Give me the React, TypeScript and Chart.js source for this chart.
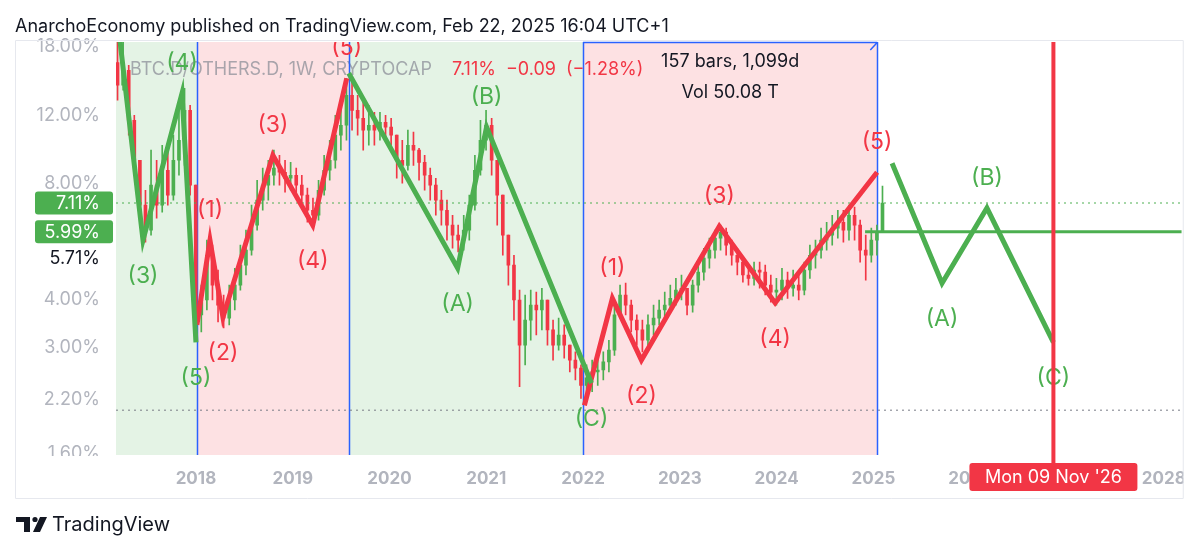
import React, { useEffect, useRef } from 'react';
import { Chart, registerables } from 'chart.js';
Chart.register(...registerables);

// ---------- DATA ----------
const candleStartYear = 2017.19;
const candleStepYears = 3 / 52;
const firstOpen = 16.4;
const candleClose = [
  14.34, 15.68, 11.64, 9.17, 7.02, 6.05, 7.91, 7.02, 8.64, 7.45,
  9.17, 10.33, 12.35, 7.91, 3.65, 3.99, 5.21, 4.36, 3.87, 3.58,
  3.99, 4.36, 4.91, 5.37, 6.23, 7.23, 7.91, 8.39, 8.75, 8.54,
  8.24, 8.39, 7.91, 7.45, 6.81, 6.61, 7.67, 8.64, 9.17, 10.65,
  11.30, 13.51, 12.35, 11.78, 10.97, 11.30, 10.97, 11.50, 11.17, 10.65,
  9.17, 8.90, 10.03, 9.74, 9.06, 8.39, 7.91, 7.23, 6.81, 6.23,
  5.87, 5.70, 6.05, 7.02, 8.64, 10.33, 11.30, 9.17, 7.45, 5.87,
  4.91, 3.99, 3.05, 3.54, 3.87, 3.76, 3.99, 3.34, 3.05, 3.24,
  3.05, 2.79, 2.66, 2.40, 2.51, 2.60, 2.63, 2.76, 2.96, 3.65,
  4.11, 3.87, 3.54, 3.34, 3.14, 3.44, 3.58, 3.76, 3.87, 4.03,
  4.23, 4.28, 3.87, 4.36, 4.71, 5.12, 5.37, 5.77, 5.98, 5.53,
  5.21, 5.00, 4.63, 4.54, 4.77, 4.71, 4.36, 4.18, 4.23, 4.49,
  4.28, 4.36, 4.23, 4.77, 5.21, 5.37, 5.70, 5.87, 6.12, 6.34,
  6.05, 6.61, 6.23, 5.37, 5.21, 5.70, 5.98, 7.11,
];
const candleHigh = [
  19.0, 19.0, 16.15, 11.99, 9.17, 7.67, 9.74, 9.17, 10.03, 9.74,
  10.65, 13.11, 14.08, 12.73, 7.91, 4.36, 5.70, 5.53, 4.77, 4.11,
  4.36, 4.82, 5.53, 6.05, 7.02, 8.14, 8.75, 9.17, 9.74, 9.45,
  9.17, 9.06, 8.75, 8.39, 7.77, 7.32, 8.14, 9.45, 10.33, 11.99,
  13.11, 14.95, 14.77, 13.51, 13.11, 12.73, 12.21, 12.21, 11.99, 11.78,
  10.65, 10.33, 10.97, 10.84, 9.85, 9.45, 8.75, 8.24, 7.67, 7.23,
  6.61, 6.23, 6.61, 7.45, 9.45, 11.64, 12.35, 11.78, 8.90, 6.81,
  5.70, 5.21, 4.23, 4.11, 4.23, 4.18, 4.28, 3.99, 3.54, 3.58,
  3.44, 3.05, 2.93, 2.71, 2.71, 2.79, 2.82, 2.93, 3.14, 3.99,
  4.36, 4.41, 3.99, 3.65, 3.54, 3.65, 3.87, 3.99, 4.18, 4.36,
  4.54, 4.63, 4.28, 4.49, 5.00, 5.43, 5.77, 6.05, 6.23, 6.12,
  5.70, 5.43, 5.12, 4.91, 5.00, 5.00, 4.91, 4.63, 4.54, 4.82,
  4.71, 4.77, 4.71, 5.00, 5.53, 5.70, 6.12, 6.34, 6.61, 6.81,
  6.81, 7.02, 6.94, 6.42, 5.87, 6.12, 6.23, 7.86,
];
const candleLow = [
  13.11, 13.92, 10.65, 8.39, 6.23, 5.63, 5.87, 6.50, 6.73, 7.02,
  7.23, 8.39, 8.90, 7.45, 3.14, 3.30, 3.76, 3.99, 3.50, 3.38,
  3.44, 3.76, 4.23, 4.63, 5.21, 6.05, 6.81, 7.23, 7.91, 7.91,
  7.58, 7.67, 7.32, 7.02, 6.34, 6.12, 6.42, 7.45, 8.14, 8.75,
  9.74, 10.33, 10.97, 10.65, 9.74, 10.03, 10.03, 10.33, 10.46, 10.03,
  8.24, 8.00, 8.64, 8.90, 8.14, 7.67, 7.23, 6.61, 6.23, 5.70,
  5.43, 5.31, 5.37, 5.70, 6.81, 8.39, 9.74, 8.39, 6.23, 5.21,
  4.36, 3.54, 2.38, 2.71, 3.14, 3.24, 3.34, 3.05, 2.79, 2.96,
  2.82, 2.60, 2.48, 2.22, 2.20, 2.31, 2.40, 2.48, 2.60, 2.87,
  3.58, 3.65, 3.30, 3.05, 2.93, 3.05, 3.24, 3.44, 3.58, 3.71,
  3.87, 3.99, 3.65, 3.71, 4.18, 4.49, 4.82, 5.12, 5.37, 5.21,
  4.91, 4.63, 4.44, 4.36, 4.36, 4.28, 4.11, 3.94, 3.87, 3.99,
  4.03, 4.08, 3.99, 4.11, 4.54, 4.82, 5.12, 5.37, 5.53, 5.77,
  5.63, 5.70, 5.70, 5.00, 4.49, 5.00, 5.21, 5.98,
];

const yTicks = [18, 12, 8, 4, 3, 2.2, 1.6];
const xTickYears = [2018, 2019, 2020, 2021, 2022, 2023, 2024, 2025, 2026, 2027, 2028];
const xMin = 2017.174;
const xMax = 2028.186;
const yMin = 1.585;
const yMax = 18.55;

const regionBounds = [2017.174, 2018.01, 2019.58, 2022.0, 2025.04];
const regionKinds = ['up', 'down', 'up', 'down'];
const dividerYears = [2018.01, 2019.58, 2022.0, 2025.04];
const rangeStartYear = 2022.0;
const rangeEndYear = 2025.04;
const projectionYear = 2026.86;
const projectionText = "Mon 09 Nov '26";

const waveG1X = [2017.216, 2017.453, 2017.856, 2018.0];
const waveG1Y = [18.6, 5.7, 13.67, 3.1];
const waveG1L = ['', '(3)', '(4)', '(5)'];
const waveR1X = [2018.01, 2018.145, 2018.279, 2018.795, 2019.207, 2019.558];
const waveR1Y = [3.44, 5.7, 3.6, 9.45, 6.23, 14.95];
const waveR1L = ['', '(1)', '(2)', '(3)', '(4)', '(5)'];
const waveG2X = [2019.579, 2020.704, 2021.003, 2022.087];
const waveG2Y = [15.4, 4.82, 11.17, 2.43];
const waveG2L = ['', '(A)', '(B)', '(C)'];
const waveR2X = [2022.014, 2022.303, 2022.603, 2023.408, 2023.985, 2025.038];
const waveR2Y = [2.13, 4.03, 2.79, 6.19, 3.92, 8.54];
const waveR2L = ['', '(1)', '(2)', '(3)', '(4)', '(5)'];
const waveG3X = [2025.193, 2025.709, 2026.173, 2026.86];
const waveG3Y = [9.01, 4.41, 6.9, 3.1];
const waveG3L = ['', '(A)', '(B)', '(C)'];

const lastPrice = 7.11;
const levelPrice = 5.99;
const levelStartYear = 2024.914;
const lowLevelPrice = 2.07;
const crossPriceText = '5.71%';

const titleText = 'AnarchoEconomy published on TradingView.com, Feb 22, 2025 16:04 UTC+1';
const symbolText = 'BTC.D/OTHERS.D, 1W, CRYPTOCAP';
const quoteTexts = ['7.11%', '\u22120.09', '(\u22121.28%)'];
const rangeTexts = ['157 bars, 1,099d', 'Vol 50.08 T'];

// ---------- STYLE ----------
const GREEN = '#4caf50';
const RED = '#f23645';
const BLUE = '#2962ff';
const FONT = 'Inter, "Noto Sans", sans-serif';

export default function App() {
  const ref = useRef<HTMLCanvasElement>(null);

  useEffect(() => {
    const canvas = ref.current;
    if (!canvas) return;

    const opens = candleClose.map((c, i) => (i === 0 ? firstOpen : candleClose[i - 1]));
    const xs = candleClose.map((_, i) => candleStartYear + i * candleStepYears);
    const colors = candleClose.map((c, i) => (c >= opens[i] ? GREEN : RED));
    const wickData = xs.map((x, i) => ({
      x,
      y: [Math.min(candleLow[i], opens[i], candleClose[i]), Math.max(candleHigh[i], opens[i], candleClose[i])],
    }));
    const bodyData = xs.map((x, i) => ({ x, y: [opens[i], candleClose[i]] }));

    const waves = [
      { x: waveG1X, y: waveG1Y, l: waveG1L, c: GREEN },
      { x: waveR1X, y: waveR1Y, l: waveR1L, c: RED },
      { x: waveG2X, y: waveG2Y, l: waveG2L, c: GREEN },
      { x: waveR2X, y: waveR2Y, l: waveR2L, c: RED },
      { x: waveG3X, y: waveG3Y, l: waveG3L, c: GREEN },
    ];

    const decor = {
      id: 'decor',
      beforeDatasetsDraw(chart: any) {
        const { ctx, chartArea: a, scales } = chart;
        const sx = scales.x;
        ctx.save();
        for (let i = 0; i < regionKinds.length; i++) {
          const x0 = sx.getPixelForValue(regionBounds[i]);
          const x1 = sx.getPixelForValue(regionBounds[i + 1]);
          ctx.fillStyle = regionKinds[i] === 'up' ? 'rgba(76,175,80,0.15)' : 'rgba(242,54,69,0.15)';
          ctx.fillRect(x0, a.top, x1 - x0, a.bottom - a.top);
        }
        // symbol legend
        ctx.textBaseline = 'middle';
        ctx.textAlign = 'left';
        ctx.font = `18px ${FONT}`;
        ctx.fillStyle = 'rgba(140,143,152,0.75)';
        ctx.fillText(symbolText, a.left + 14, a.top + 28);
        ctx.fillStyle = RED;
        let qx = a.left + 336;
        for (const t of quoteTexts) {
          ctx.fillText(t, qx, a.top + 28);
          qx += ctx.measureText(t).width + 10;
        }
        // dividers
        ctx.strokeStyle = BLUE;
        ctx.lineWidth = 1.5;
        for (const d of dividerYears) {
          const px = Math.round(sx.getPixelForValue(d)) + 0.5;
          ctx.beginPath();
          ctx.moveTo(px, a.top);
          ctx.lineTo(px, a.bottom);
          ctx.stroke();
        }
        // date range top edge + arrow
        const r0 = sx.getPixelForValue(rangeStartYear);
        const r1 = sx.getPixelForValue(rangeEndYear);
        ctx.beginPath();
        ctx.moveTo(r0, a.top + 0.5);
        ctx.lineTo(r1, a.top + 0.5);
        ctx.moveTo(r1, a.top + 0.5);
        ctx.lineTo(r1 - 7, a.top + 8);
        ctx.stroke();
        ctx.fillStyle = '#131722';
        ctx.textAlign = 'center';
        ctx.font = `18px ${FONT}`;
        ctx.fillText(rangeTexts[0], (r0 + r1) / 2, a.top + 20);
        ctx.fillText(rangeTexts[1], (r0 + r1) / 2, a.top + 51);
        ctx.restore();
      },
      afterDatasetsDraw(chart: any) {
        const { ctx, chartArea: a, scales } = chart;
        const sx = scales.x;
        const sy = scales.y;
        ctx.save();
        ctx.beginPath();
        ctx.rect(a.left, a.top, a.right - a.left, a.bottom - a.top);
        ctx.clip();
        ctx.font = `23px ${FONT}`;
        ctx.textAlign = 'center';
        ctx.textBaseline = 'middle';
        for (const w of waves) {
          for (let i = 0; i < w.x.length; i++) {
            if (!w.l[i]) continue;
            const v = w.y[i];
            const prev = w.y[i - 1];
            const next = w.y[i + 1];
            const peak = (prev === undefined || v > prev) && (next === undefined || v > next);
            const px = sx.getPixelForValue(w.x[i]);
            const py = sy.getPixelForValue(v);
            ctx.fillStyle = w.c;
            ctx.fillText(w.l[i], px, peak ? py - 30 : py + 36);
          }
        }
        ctx.restore();
        // projection vertical line
        ctx.save();
        const vx = sx.getPixelForValue(projectionYear);
        ctx.strokeStyle = RED;
        ctx.lineWidth = 4;
        ctx.beginPath();
        ctx.moveTo(vx, a.top);
        ctx.lineTo(vx, a.bottom + 8);
        ctx.stroke();
        ctx.restore();
      },
      afterDraw(chart: any) {
        const { ctx, chartArea: a, scales } = chart;
        const sx = scales.x;
        const sy = scales.y;
        ctx.save();
        // clip overflowing axis labels
        ctx.fillStyle = '#ffffff';
        ctx.fillRect(16, a.bottom + 1, a.left - 17, 9);
        ctx.fillRect(a.right + 2, a.bottom + 1, 20, 43);
        // frame
        ctx.strokeStyle = '#e6e8ee';
        ctx.lineWidth = 1;
        ctx.beginPath();
        ctx.moveTo(15.5, a.top - 1.5);
        ctx.lineTo(a.right + 1.5, a.top - 1.5);
        ctx.lineTo(a.right + 1.5, 498.5);
        ctx.lineTo(15.5, 498.5);
        ctx.closePath();
        ctx.stroke();
        // title
        ctx.fillStyle = '#131722';
        ctx.textAlign = 'left';
        ctx.textBaseline = 'middle';
        ctx.font = `18px ${FONT}`;
        ctx.fillText(titleText, 15, 27);
        // footer
        ctx.fillRect(16, 517, 14, 5);
        ctx.fillRect(24, 517, 6, 15);
        ctx.beginPath();
        ctx.arc(35, 519.5, 2.6, 0, Math.PI * 2);
        ctx.fill();
        ctx.beginPath();
        ctx.moveTo(40, 517);
        ctx.lineTo(47, 517);
        ctx.lineTo(40, 532);
        ctx.lineTo(33, 532);
        ctx.closePath();
        ctx.fill();
        ctx.font = `20px ${FONT}`;
        ctx.fillText('TradingView', 52, 525);
        // price labels
        const boxes = [lastPrice, levelPrice];
        ctx.font = `18px ${FONT}`;
        for (const p of boxes) {
          const py = sy.getPixelForValue(p);
          ctx.fillStyle = GREEN;
          ctx.beginPath();
          (ctx as any).roundRect(35, py - 11.5, 78, 23, 3);
          ctx.fill();
          ctx.fillStyle = '#ffffff';
          ctx.textAlign = 'right';
          ctx.fillText(p.toFixed(2) + '%', 100, py + 1);
        }
        ctx.fillStyle = '#131722';
        ctx.textAlign = 'right';
        ctx.fillText(crossPriceText, 100, sy.getPixelForValue(levelPrice) + 27);
        // projection date box
        const vx = sx.getPixelForValue(projectionYear);
        ctx.fillStyle = RED;
        ctx.beginPath();
        (ctx as any).roundRect(vx - 84, a.bottom + 8, 168, 28, 3);
        ctx.fill();
        ctx.fillStyle = '#ffffff';
        ctx.textAlign = 'center';
        ctx.fillText(projectionText, vx, a.bottom + 23);
        ctx.restore();
      },
    };

    const waveSets = waves.map((w) => ({
      type: 'line',
      data: w.x.map((x, i) => ({ x, y: w.y[i] })),
      borderColor: w.c,
      borderWidth: 5,
      pointRadius: 0,
      tension: 0,
      order: 1,
    }));

    const chart = new Chart(canvas, {
      type: 'bar',
      data: {
        datasets: [
          ...waveSets,
          {
            type: 'line',
            data: [{ x: levelStartYear, y: levelPrice }, { x: xMax, y: levelPrice }],
            borderColor: GREEN,
            borderWidth: 3,
            pointRadius: 0,
            order: 2,
          },
          {
            type: 'line',
            data: [{ x: xMin, y: lastPrice }, { x: xMax, y: lastPrice }],
            borderColor: GREEN,
            borderWidth: 1,
            borderDash: [2, 4],
            pointRadius: 0,
            order: 3,
          },
          {
            type: 'line',
            data: [{ x: xMin, y: lowLevelPrice }, { x: xMax, y: lowLevelPrice }],
            borderColor: '#787b86',
            borderWidth: 1,
            borderDash: [2, 4],
            pointRadius: 0,
            order: 3,
          },
          {
            type: 'bar',
            data: wickData,
            backgroundColor: colors,
            barThickness: 1,
            grouped: false,
            order: 6,
          },
          {
            type: 'bar',
            data: bodyData,
            backgroundColor: colors,
            barThickness: 3,
            minBarLength: 1,
            grouped: false,
            order: 5,
          },
        ] as any,
      },
      options: {
        animation: false,
        responsive: false,
        devicePixelRatio: 1,
        events: [],
        layout: { padding: { top: 42, right: 17, left: 0, bottom: 0 } },
        plugins: { legend: { display: false }, tooltip: { enabled: false } },
        scales: {
          x: {
            type: 'linear',
            min: xMin,
            max: xMax,
            offset: false,
            grid: { display: false, drawTicks: false },
            border: { display: false },
            afterBuildTicks: (s: any) => {
              s.ticks = xTickYears.map((v) => ({ value: v }));
            },
            afterFit: (s: any) => {
              s.height = 98;
            },
            ticks: {
              padding: 14,
              color: '#b2b5be',
              font: { family: FONT, size: 17, weight: 'bold' },
              maxRotation: 0,
              autoSkip: false,
              callback: (v: any) => String(v),
            },
          },
          y: {
            type: 'logarithmic',
            min: yMin,
            max: yMax,
            position: 'left',
            grid: { display: false, drawTicks: false },
            border: { display: false },
            afterBuildTicks: (s: any) => {
              s.ticks = yTicks.map((v) => ({ value: v }));
            },
            afterFit: (s: any) => {
              s.width = 116;
            },
            ticks: {
              padding: 16,
              color: '#b2b5be',
              font: { family: FONT, size: 18 },
              autoSkip: false,
              callback: (v: any) => Number(v).toFixed(2) + '%',
            },
          },
        },
      } as any,
      plugins: [decor as any],
    });

    return () => chart.destroy();
  }, []);

  return (
    <div style={{ position: 'absolute', left: 0, top: 0, width: 1200, height: 553, background: '#ffffff' }}>
      <canvas ref={ref} width={1200} height={553} style={{ display: 'block', width: 1200, height: 553 }} />
    </div>
  );
}
